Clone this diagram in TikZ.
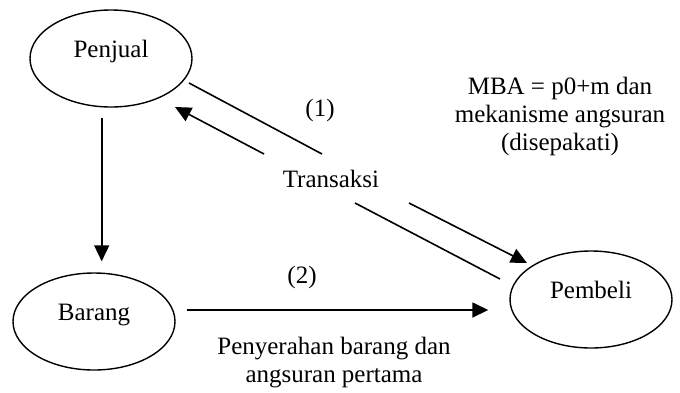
\documentclass[tikz,border=0pt]{standalone}
\usepackage{fontspec}
\setmainfont{Liberation Serif}
\usetikzlibrary{arrows.meta,shapes.geometric,positioning}

\begin{document}
\begin{tikzpicture}[
  x=1pt, y=-1pt, line width=1.6pt, line cap=butt,
  font=\fontsize{25}{28}\selectfont,
  actor/.style={ellipse, draw=black, line width=1.4pt, minimum width=162pt, minimum height=97pt,
    inner sep=0pt, text height=17pt, text depth=20pt},
  arr/.style={-{Triangle[length=16pt,width=15pt]}},
  txt/.style={align=center, inner sep=0pt}
]
\useasboundingbox (0,0) rectangle (680,392);

\node[actor] (penjual) at (111,58.5) {Penjual};
\node[actor] (barang) at (94,321.5) {Barang};
\node[actor] (pembeli) at (591,299.5) {Pembeli};

\node[txt] (trans) at (331,179) {Transaksi};
\node[txt] (n1) at (320,110) {(1)};
\node[txt] (n2) at (302,277) {(2)};
\node[txt] (mba) at (560,116) {MBA = p0+m dan\\mekanisme angsuran\\(disepakati)};
\node[txt] (serah) at (334,363) {Penyerahan barang dan\\angsuran pertama};

% ends of the broken lines round "Transaksi"
\coordinate (a1) at (189,83);  \coordinate (a2) at (322,154);
\coordinate (b1) at (264,154); \coordinate (b2) at (175,107);
\coordinate (c1) at (355,203); \coordinate (c2) at (500,279);
\coordinate (d1) at (409,203); \coordinate (d2) at (527,263);

\draw (a1) -- (a2);
\draw[arr] (b1) -- (b2);
\draw (c1) -- (c2);
\draw[arr] (d1) -- (d2);

\draw[arr] ([xshift=-9.3pt,yshift=-10pt]penjual.south) -- ([xshift=7.7pt,yshift=11pt]barang.north);
\draw[arr] ([xshift=11pt,yshift=11.5pt]barang.east) -- ([xshift=-21pt,yshift=-10.5pt]pembeli.west);
\end{tikzpicture}
\end{document}
